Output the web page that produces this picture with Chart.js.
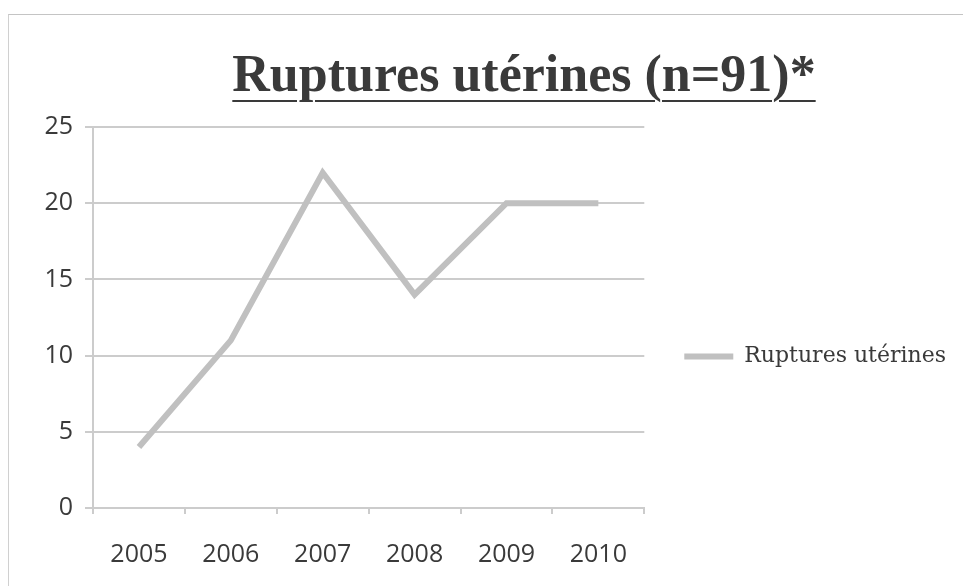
<!DOCTYPE html>
<html>
<head>
<meta charset="utf-8">
<script src="https://cdn.jsdelivr.net/npm/chart.js@4"></script>
<style>
  html, body { margin: 0; padding: 0; background: #fff; overflow: hidden; }
  #wrap { position: relative; width: 963px; height: 586px; }
  #frame {
    position: absolute; left: 8px; top: 14px; right: 0; bottom: 0;
    border-top: 1px solid #c4c4c4; border-left: 1px solid #d0d0d0;
  }
  #title {
    position: absolute; left: 0; width: 1048px; top: 48px;
    text-align: center; font: bold 52px "Liberation Serif", serif;
    line-height: 52px; color: #3a3a3a;
    text-decoration: underline; text-decoration-thickness: 2px;
    text-underline-offset: 9px;
  }
  canvas { position: absolute; left: 0; top: 0; }
</style>
</head>
<body>
<div id="wrap">
  <div id="frame"></div>
  <div id="title">Ruptures utérines (n=91)*</div>
  <canvas id="chart" width="963" height="586"></canvas>
</div>
<script>
// données
const years = ['2005', '2006', '2007', '2008', '2009', '2010'];
const ruptures = [4, 11, 22, 14, 20, 20];
const seriesName = 'Ruptures utérines';
const yTicks = [0, 5, 10, 15, 20, 25];

const gridGrey = '#cccccc';
const textGrey = '#3a3a3a';

const chart = new Chart(document.getElementById('chart'), {
  type: 'line',
  data: {
    labels: years,
    datasets: [{
      label: seriesName,
      data: ruptures,
      borderColor: '#c0c0c0',
      backgroundColor: '#c0c0c0',
      borderWidth: 6,
      pointRadius: 0,
      tension: 0,
      fill: false
    }]
  },
  options: {
    responsive: false,
    animation: false,
    layout: { padding: { top: 127, left: 0, bottom: 0, right: 7 } },
    plugins: {
      title: { display: false },
      tooltip: { enabled: false },
      legend: {
        position: 'right',
        maxWidth: 400,
        labels: {
          usePointStyle: true,
          pointStyle: 'line',
          pointStyleWidth: 49,
          padding: 40,
          color: textGrey,
          font: { family: '"DejaVu Serif", serif', size: 22 }
        }
      }
    },
    scales: {
      x: {
        offset: true,
        grid: {
          offset: true,
          drawOnChartArea: false,
          drawTicks: true,
          tickLength: 6,
          color: gridGrey,
          lineWidth: 2
        },
        border: { color: gridGrey, width: 2 },
        ticks: {
          color: textGrey,
          padding: 26,
          font: { family: '"Open Sans", sans-serif', size: 25 }
        },
        afterFit: (scale) => { scale.height = 78; }
      },
      y: {
        min: 0,
        max: 25,
        afterBuildTicks: (scale) => { scale.ticks = yTicks.map(v => ({ value: v })); },
        grid: { color: gridGrey, lineWidth: 2, tickLength: 8 },
        border: { color: gridGrey, width: 2 },
        ticks: {
          color: textGrey,
          padding: 12,
          font: { family: '"Open Sans", sans-serif', size: 25 }
        },
        afterFit: (scale) => { scale.width = 93; }
      }
    }
  }
});
</script>
</body>
</html>
